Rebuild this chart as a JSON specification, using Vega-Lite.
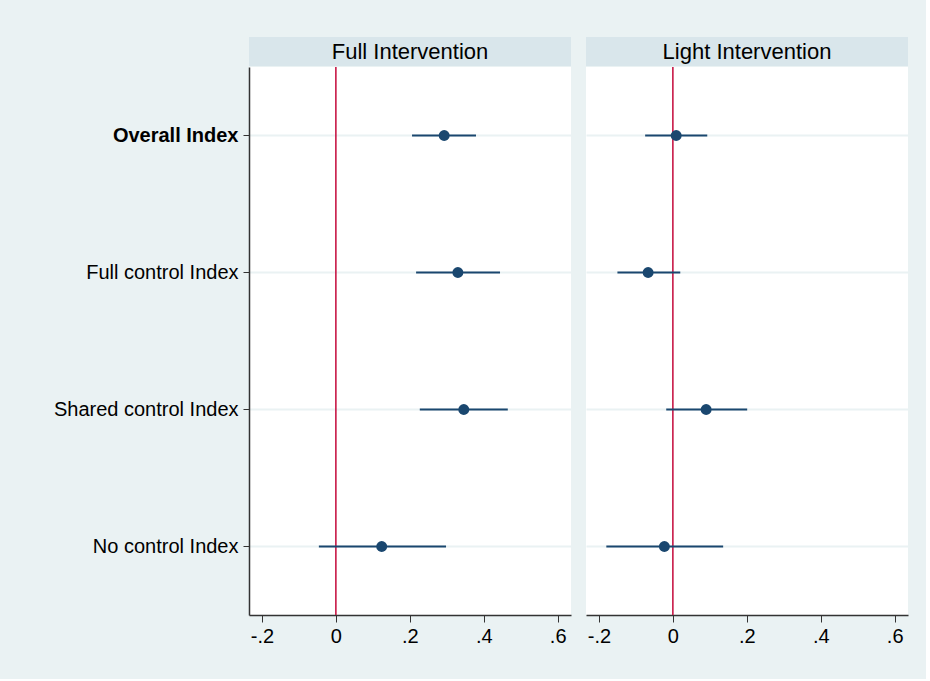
{
  "$schema": "https://vega.github.io/schema/vega-lite/v6.json",
  "background": "#eaf2f3",
  "padding": {"left": 49, "top": 37, "right": 18, "bottom": 33},
  "datasets": {
    "coefs": [
      {"panel": "Full Intervention", "label": "Overall Index", "est": 0.293, "lo": 0.206, "hi": 0.379},
      {"panel": "Full Intervention", "label": "Full control Index", "est": 0.330, "lo": 0.217, "hi": 0.444},
      {"panel": "Full Intervention", "label": "Shared control Index", "est": 0.346, "lo": 0.227, "hi": 0.465},
      {"panel": "Full Intervention", "label": "No control Index", "est": 0.124, "lo": -0.046, "hi": 0.298},
      {"panel": "Light Intervention", "label": "Overall Index", "est": 0.009, "lo": -0.075, "hi": 0.093},
      {"panel": "Light Intervention", "label": "Full control Index", "est": -0.067, "lo": -0.150, "hi": 0.020},
      {"panel": "Light Intervention", "label": "Shared control Index", "est": 0.090, "lo": -0.018, "hi": 0.201},
      {"panel": "Light Intervention", "label": "No control Index", "est": -0.023, "lo": -0.180, "hi": 0.136}
    ],
    "panels": [{"panel": "Full Intervention"}, {"panel": "Light Intervention"}],
    "ref": [{"x": 0}]
  },
  "spacing": 15,
  "hconcat": [
    {
      "spacing": 0,
      "vconcat": [
        {
          "width": 322, "height": 29,
          "view": {"fill": "#d9e6eb", "stroke": null},
          "data": {"name": "panels"},
          "transform": [{"filter": "datum.panel == 'Full Intervention'"}],
          "mark": {"type": "text", "fontSize": 22, "color": "#000000", "baseline": "middle", "align": "center"},
          "encoding": {"text": {"field": "panel"}}
        },
        {
          "width": 322, "height": 548,
          "view": {"fill": "#ffffff", "stroke": null},
          "layer": [
            {
              "data": {"name": "coefs"},
              "transform": [{"filter": "datum.panel == 'Full Intervention'"}],
              "mark": {"type": "tick", "opacity": 0},
              "encoding": {
                "y": {"field": "label", "type": "nominal", "scale": {"domain": ["Overall Index", "Full control Index", "Shared control Index", "No control Index"]},
                  "axis": {"title": null, "domain": true, "domainColor": "#333333", "domainWidth": 1.5, "ticks": true, "tickColor": "#333333", "tickSize": 6, "grid": true, "gridColor": "#eaf2f3", "gridWidth": 2, "labelFontSize": 20, "labelColor": "#000000", "labelPadding": 5, "labelLimit": 400, "minExtent": 200, "maxExtent": 200,
                    "labelFontWeight": {"condition": {"test": "datum.value == 'Overall Index'", "value": "bold"}, "value": "normal"}}},
                "x": {"field": "est", "type": "quantitative", "scale": {"domain": [-0.235, 0.636], "nice": false, "zero": false},
                  "axis": {"title": null, "values": [-0.2, 0, 0.2, 0.4, 0.6], "grid": false, "domainColor": "#333333", "domainWidth": 1.5, "tickColor": "#333333", "tickSize": 7, "labelFontSize": 20, "labelColor": "#000000", "labelPadding": 4,
                    "labelExpr": "datum.value == 0 ? '0' : (datum.value < 0 ? '-' : '') + '.' + format(abs(datum.value) * 10, 'd')"}}
              }
            },
            {
              "data": {"name": "ref"},
              "mark": {"type": "rule", "color": "#c4093a", "strokeWidth": 1.5},
              "encoding": {"x": {"field": "x", "type": "quantitative"}}
            },
            {
              "data": {"name": "coefs"},
              "transform": [{"filter": "datum.panel == 'Full Intervention'"}],
              "mark": {"type": "rule", "color": "#1a476f", "strokeWidth": 2},
              "encoding": {
                "y": {"field": "label", "type": "nominal"},
                "x": {"field": "lo", "type": "quantitative"},
                "x2": {"field": "hi"}
              }
            },
            {
              "data": {"name": "coefs"},
              "transform": [{"filter": "datum.panel == 'Full Intervention'"}],
              "mark": {"type": "circle", "color": "#1a476f", "size": 120, "opacity": 1},
              "encoding": {
                "y": {"field": "label", "type": "nominal"},
                "x": {"field": "est", "type": "quantitative"}
              }
            }
          ]
        }
      ]
    },
    {
      "spacing": 0,
      "vconcat": [
        {
          "width": 322, "height": 29,
          "view": {"fill": "#d9e6eb", "stroke": null},
          "data": {"name": "panels"},
          "transform": [{"filter": "datum.panel == 'Light Intervention'"}],
          "mark": {"type": "text", "fontSize": 22, "color": "#000000", "baseline": "middle", "align": "center"},
          "encoding": {"text": {"field": "panel"}}
        },
        {
          "width": 322, "height": 548,
          "view": {"fill": "#ffffff", "stroke": null},
          "layer": [
            {
              "data": {"name": "coefs"},
              "transform": [{"filter": "datum.panel == 'Light Intervention'"}],
              "mark": {"type": "tick", "opacity": 0},
              "encoding": {
                "y": {"field": "label", "type": "nominal", "scale": {"domain": ["Overall Index", "Full control Index", "Shared control Index", "No control Index"]},
                  "axis": {"title": null, "domain": false, "ticks": false, "labels": false, "grid": true, "gridColor": "#eaf2f3", "gridWidth": 2}},
                "x": {"field": "est", "type": "quantitative", "scale": {"domain": [-0.235, 0.636], "nice": false, "zero": false},
                  "axis": {"title": null, "values": [-0.2, 0, 0.2, 0.4, 0.6], "grid": false, "domainColor": "#333333", "domainWidth": 1.5, "tickColor": "#333333", "tickSize": 7, "labelFontSize": 20, "labelColor": "#000000", "labelPadding": 4,
                    "labelExpr": "datum.value == 0 ? '0' : (datum.value < 0 ? '-' : '') + '.' + format(abs(datum.value) * 10, 'd')"}}
              }
            },
            {
              "data": {"name": "ref"},
              "mark": {"type": "rule", "color": "#c4093a", "strokeWidth": 1.5},
              "encoding": {"x": {"field": "x", "type": "quantitative"}}
            },
            {
              "data": {"name": "coefs"},
              "transform": [{"filter": "datum.panel == 'Light Intervention'"}],
              "mark": {"type": "rule", "color": "#1a476f", "strokeWidth": 2},
              "encoding": {
                "y": {"field": "label", "type": "nominal"},
                "x": {"field": "lo", "type": "quantitative"},
                "x2": {"field": "hi"}
              }
            },
            {
              "data": {"name": "coefs"},
              "transform": [{"filter": "datum.panel == 'Light Intervention'"}],
              "mark": {"type": "circle", "color": "#1a476f", "size": 120, "opacity": 1},
              "encoding": {
                "y": {"field": "label", "type": "nominal"},
                "x": {"field": "est", "type": "quantitative"}
              }
            }
          ]
        }
      ]
    }
  ],
  "config": {
    "font": "Liberation Sans",
    "view": {"stroke": null},
    "axis": {"labelFont": "Liberation Sans"}
  }
}
